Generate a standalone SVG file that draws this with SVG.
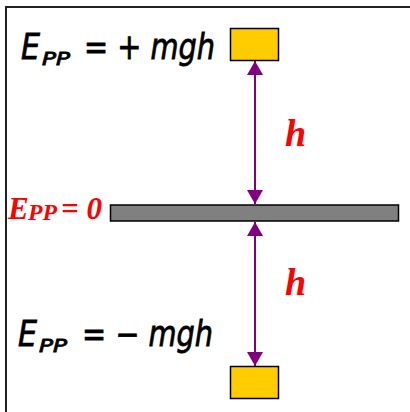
<svg xmlns="http://www.w3.org/2000/svg" width="410" height="412" viewBox="0 0 410 412">
<defs>
<style>
.blk{font-family:"DejaVu Sans",sans-serif;font-style:italic;fill:#000;stroke:#000;stroke-width:0.8}
.red{font-family:"Liberation Serif",serif;font-style:italic;font-weight:bold;fill:#ff0000}
.box{fill:#ffcc00;stroke:#000;stroke-width:1.5}
.conn{stroke:#800080;stroke-width:2;fill:none;marker-start:url(#ah);marker-end:url(#ah)}
</style>
<marker id="ah" markerUnits="userSpaceOnUse" markerWidth="16" markerHeight="16" refX="14" refY="8" orient="auto-start-reverse" viewBox="0 0 14 16">
<path d="M0,0 L14,8 L0,16 Z" fill="#800080"/>
</marker>
</defs>
<rect x="0" y="0" width="410" height="412" fill="#fff"/>
<path d="M6,412 V7 H410" fill="none" stroke="#222" stroke-width="2"/>
<g id="connectors">
<line class="conn" x1="255" y1="61" x2="255" y2="204"/>
<line class="conn" x1="255" y1="222" x2="255" y2="366"/>
</g>
<g id="top-block">
<rect class="box" x="230.5" y="28.5" width="48" height="32"/>
</g>
<g id="ground">
<rect x="110.5" y="205" width="288" height="16" fill="#808080" stroke="#000" stroke-width="1.5"/>
</g>
<g id="bottom-block">
<rect class="box" x="230.5" y="366.5" width="48" height="32"/>
</g>
<g id="label-top">
<text class="blk" x="21" y="59" font-size="35" textLength="19" lengthAdjust="spacingAndGlyphs">E</text>
<text class="blk" x="42" y="65" font-size="17" textLength="28" lengthAdjust="spacingAndGlyphs" stroke-width="0.6">PP</text>
<text class="blk" x="84" y="59" font-size="35" textLength="131" lengthAdjust="spacingAndGlyphs">= + mgh</text>
</g>
<g id="label-bottom">
<text class="blk" x="18" y="346" font-size="35" textLength="19" lengthAdjust="spacingAndGlyphs">E</text>
<text class="blk" x="39" y="352" font-size="17" textLength="28" lengthAdjust="spacingAndGlyphs" stroke-width="0.6">PP</text>
<text class="blk" x="82" y="346" font-size="35" textLength="131" lengthAdjust="spacingAndGlyphs">= − mgh</text>
</g>
<g id="label-zero">
<text class="red" x="8" y="219" font-size="31">E</text>
<text class="red" x="28" y="220" font-size="23" textLength="29" lengthAdjust="spacingAndGlyphs">PP</text>
<text class="red" x="61" y="219" font-size="31" textLength="41" lengthAdjust="spacingAndGlyphs">= 0</text>
</g>
<g id="h-labels">
<text class="red" x="285" y="146" font-size="38">h</text>
<text class="red" x="285" y="295" font-size="38">h</text>
</g>
</svg>
